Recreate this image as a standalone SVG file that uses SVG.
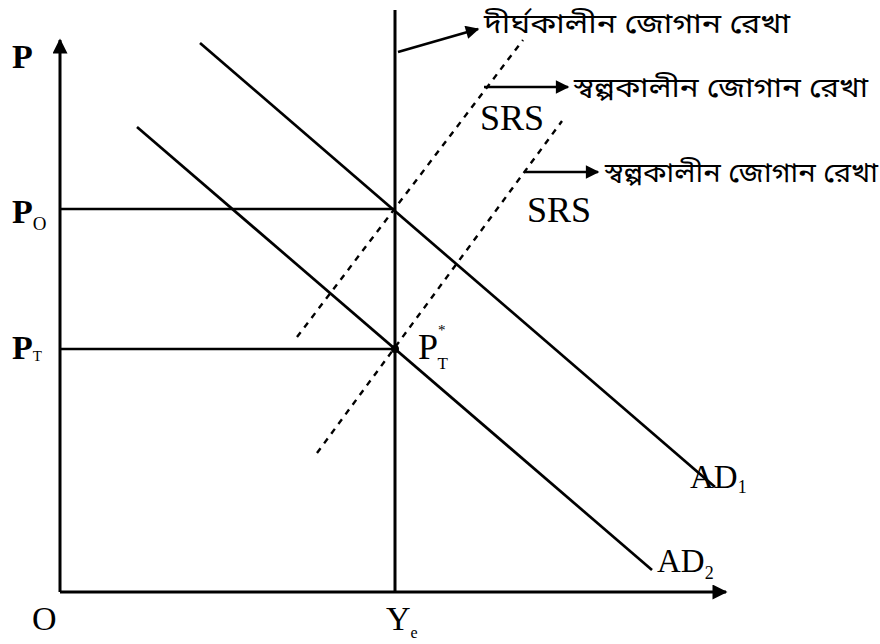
<svg xmlns="http://www.w3.org/2000/svg" width="880" height="644" viewBox="0 0 880 644">
<style>
.ln{stroke:#000;stroke-width:2.7;fill:none}
.ax{stroke:#000;stroke-width:3;fill:none}
.ds{stroke:#000;stroke-width:2.4;fill:none;stroke-dasharray:6 6}
.lb{font-family:"Liberation Serif","Times New Roman",serif;fill:#000}
.bd{font-weight:bold}
.bn{font-family:"Noto Sans Bengali","Noto Serif Bengali","Noto Sans",sans-serif;font-size:27px;fill:#000}
</style>
<defs>
<marker id="ah" viewBox="0 0 10 10" refX="9" refY="5" markerWidth="6" markerHeight="5" orient="auto" markerUnits="strokeWidth">
<path d="M0,0 L10,5 L0,10 z" fill="#000"/>
</marker>
</defs>
<rect width="880" height="644" fill="#fff"/>
<g id="connectors">
<line class="ax" x1="60" y1="592" x2="60" y2="40" marker-end="url(#ah)"/>
<line class="ax" x1="60" y1="592" x2="726" y2="592" marker-end="url(#ah)"/>
<line class="ax" x1="395" y1="10" x2="395" y2="592"/>
<line class="ln" x1="60" y1="209" x2="395" y2="209"/>
<line class="ln" x1="60" y1="349" x2="395" y2="349"/>
<line class="ln" x1="200" y1="43" x2="715" y2="487"/>
<line class="ln" x1="137" y1="127" x2="652" y2="570"/>
<line class="ds" x1="297" y1="337" x2="523" y2="40"/>
<line class="ds" x1="317" y1="453" x2="562" y2="121"/>
<line class="ln" stroke-width="2.2" x1="398" y1="52" x2="478" y2="29" marker-end="url(#ah)"/>
<line class="ln" stroke-width="2.2" x1="484" y1="87" x2="568" y2="87" marker-end="url(#ah)"/>
<line class="ln" stroke-width="2.2" x1="525" y1="172" x2="598" y2="172" marker-end="url(#ah)"/>
<circle cx="395" cy="349" r="4" fill="#000"/>
</g>
<g id="axis-labels">
<text class="lb bd" x="12" y="68" font-size="34">P</text>
<text class="lb bd" x="12" y="223" font-size="34">P<tspan font-size="19" font-weight="normal" dy="7">O</tspan></text>
<text class="lb bd" x="12" y="359" font-size="34">P<tspan font-size="15" font-weight="normal" dy="2">T</tspan></text>
<text class="lb" x="32" y="630" font-size="34">O</text>
<text class="lb" x="386" y="630" font-size="34">Y<tspan font-size="16" dy="8">e</tspan></text>
</g>
<g id="equilibrium">
<text class="lb" x="418" y="359" font-size="36">P<tspan font-size="15" dy="-24">*</tspan><tspan font-size="17" dx="-8" dy="34">T</tspan></text>
</g>
<g id="ad-labels">
<text class="lb" x="690" y="488" font-size="33">AD<tspan font-size="18" dy="5">1</tspan></text>
<text class="lb" x="657" y="572" font-size="33">AD<tspan font-size="18" dy="7">2</tspan></text>
</g>
<g id="srs-labels">
<text class="lb" x="480" y="130" font-size="36">SRS</text>
<text class="lb" x="527" y="222" font-size="36">SRS</text>
</g>
<g id="bengali-labels">
<text class="bn" x="484" y="33" textLength="306" lengthAdjust="spacingAndGlyphs">দীর্ঘকালীন জোগান রেখা</text>
<text class="bn" x="574" y="97" textLength="294" lengthAdjust="spacingAndGlyphs">স্বল্পকালীন জোগান রেখা</text>
<text class="bn" x="605" y="182" textLength="273" lengthAdjust="spacingAndGlyphs">স্বল্পকালীন জোগান রেখা</text>
</g>
</svg>
